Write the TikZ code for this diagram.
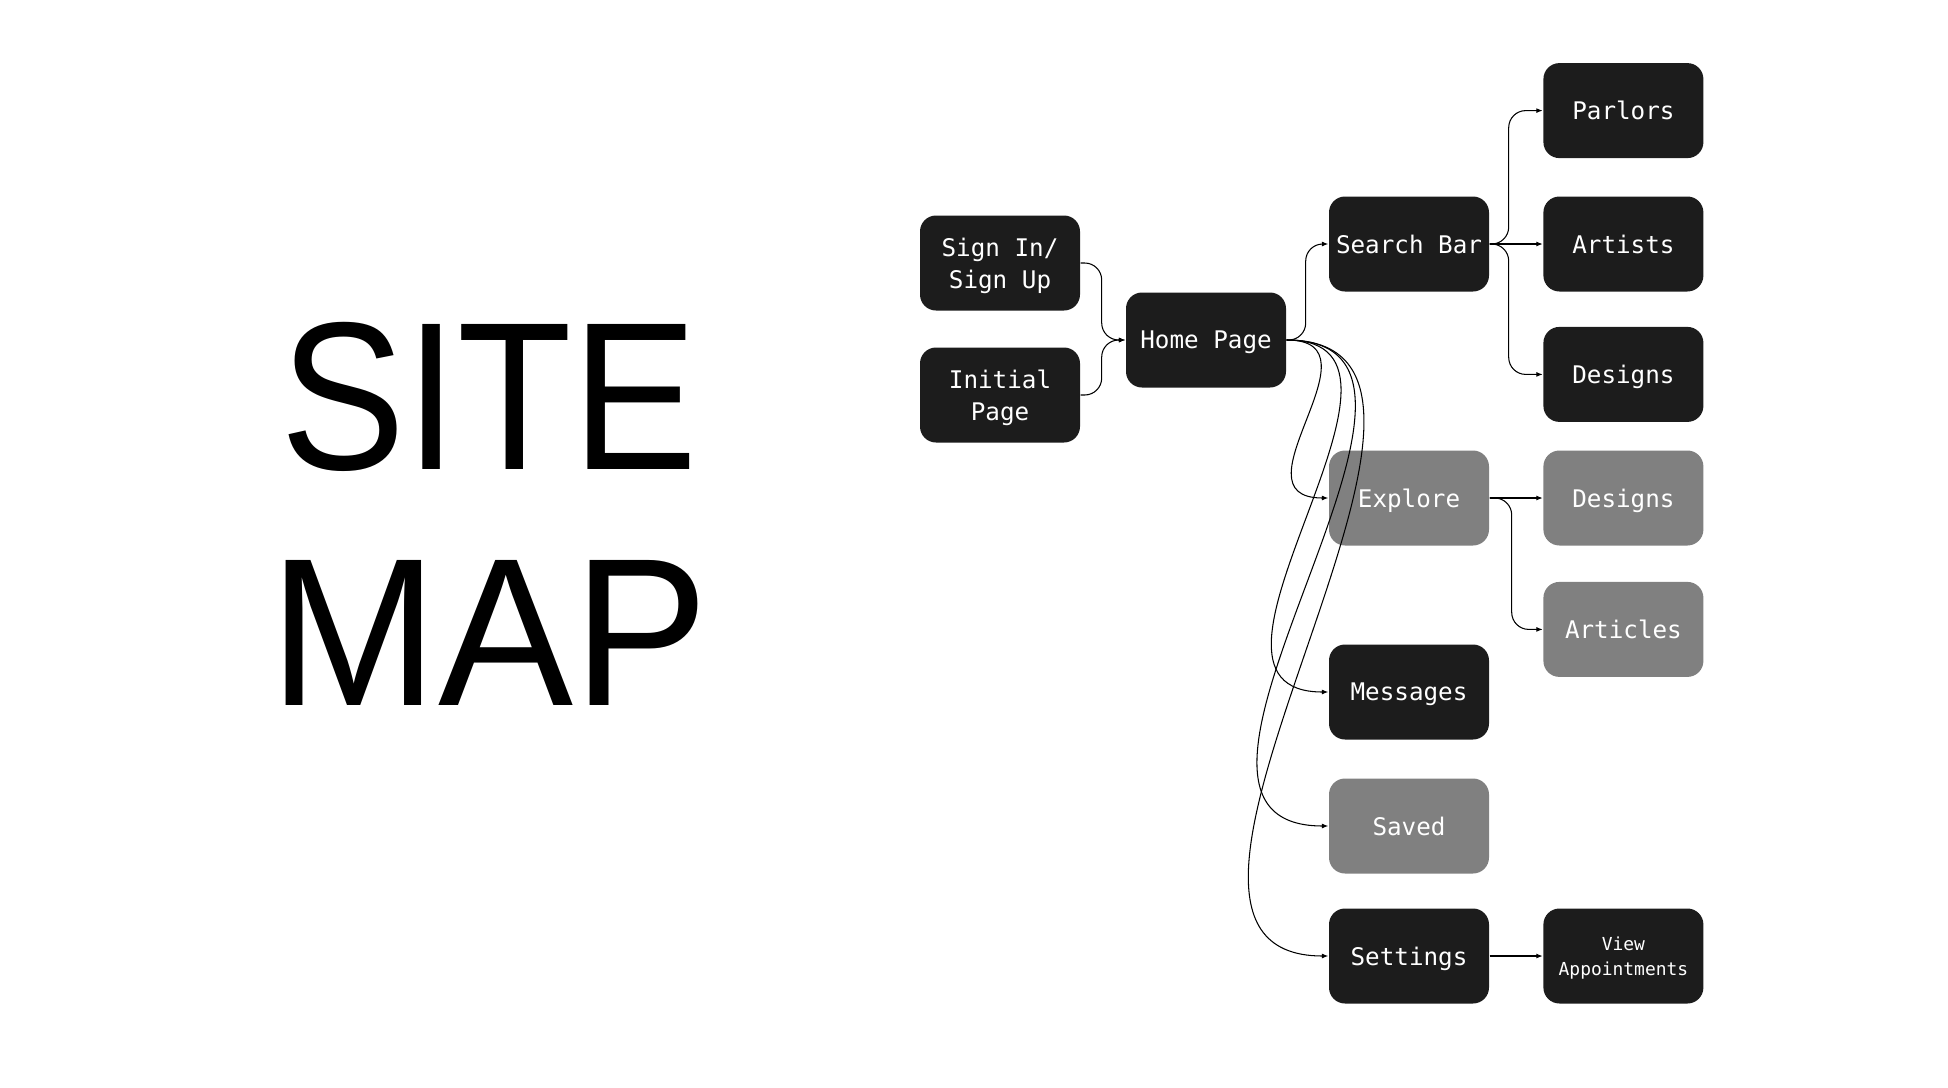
\documentclass[tikz,border=0pt]{standalone}
\usepackage{fontspec}
\newfontfamily\boxfont{DejaVu Sans Mono}
\newfontfamily\titlefont[FakeStretch=0.89]{Liberation Sans}
\newfontfamily\titlewide[FakeStretch=0.96]{Liberation Sans}
\usetikzlibrary{shapes, arrows.meta, positioning}
\usepackage{xcolor}
\definecolor{boxdark}{HTML}{1C1C1C}
\definecolor{boxgray}{HTML}{808080}
\tikzstyle{block} = [rectangle, fill=boxdark, text=white,
    font=\boxfont\fontsize{6.9}{9}\selectfont, align=center, text depth=0pt,
    rounded corners=0.16cm, minimum width=1.6cm, minimum height=0.95cm, inner sep=1pt]
\tikzstyle{grayblock} = [block, fill=boxgray]
\tikzstyle{line} = [draw, line width=0.3pt, -{Latex[length=1.8pt,width=1.4pt]}]
\tikzstyle{elbow} = [line, rounded corners=0.17cm]

\begin{document}
\begin{tikzpicture}
        \useasboundingbox (0,0) rectangle (19.48,-10.88);

        % Title
        \node [font=\titlefont\fontsize{60}{67}\selectfont, align=center, inner sep=0] (title) at (4.89,-5.14) {SITE\\{\titlewide MAP}};

        % Nodes
        \node [block] (signin) at (10.00,-2.63) {Sign In/\\Sign Up};
        \node [block] (initial) at (10.00,-3.95) {Initial\\Page};
        \node [block] (home) at (12.06,-3.40) {Home Page};
        \node [block] (search) at (14.09,-2.44) {Search Bar};
        \node [block, right=0.53cm of search] (artists) {Artists};
        \node [block, above=0.37cm of artists] (parlors) {Parlors};
        \node [block, below=0.34cm of artists] (designs) {Designs};
        \node [grayblock] (explore) at (14.09,-4.98) {Explore};
        \node [grayblock, right=0.53cm of explore] (exdesigns) {Designs};
        \node [grayblock, below=0.35cm of exdesigns] (articles) {Articles};
        \node [block] (messages) at (14.09,-6.92) {Messages};
        \node [grayblock] (saved) at (14.09,-8.26) {Saved};
        \node [block] (settings) at (14.09,-9.56) {Settings};
        \node [block, right=0.53cm of settings, font=\boxfont\fontsize{5.1}{7}\selectfont] (appts) {View\\Appointments};

        % Lines
        \path [elbow] (signin.east) -- ++(0.21,0) |- (home.west);
        \path [elbow] (initial.east) -- ++(0.21,0) |- (home.west);
        \path [elbow] (home.east) -- ++(0.19,0) |- (search.west);
        \path [line] (home.east) .. controls +(1.0,0) and +(-1.0,0) .. (explore.west);
        \path [line] (home.east) .. controls +(1.7,0) and +(-1.7,0) .. (messages.west);
        \path [line] (home.east) .. controls +(2.2,0) and +(-2.2,0) .. (saved.west);
        \path [line] (home.east) .. controls +(2.5,0) and +(-2.5,0) .. (settings.west);
        \path [elbow] (search.east) -- ++(0.19,0) |- (parlors.west);
        \path [line] (search.east) -- (artists.west);
        \path [elbow] (search.east) -- ++(0.19,0) |- (designs.west);
        \path [line] (explore.east) -- (exdesigns.west);
        \path [elbow] (explore.east) -- ++(0.22,0) |- (articles.west);
        \path [line] (settings.east) -- (appts.west);
\end{tikzpicture}
\end{document}
